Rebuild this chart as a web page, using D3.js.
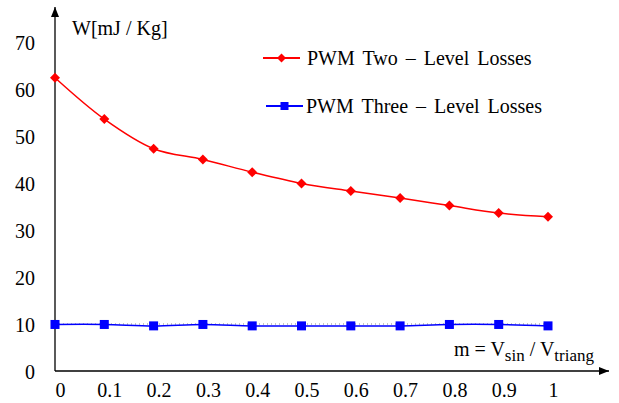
<!DOCTYPE html>
<html>
<head>
<meta charset="utf-8">
<script src="https://cdn.jsdelivr.net/npm/d3@7"></script>
<style>
  body { margin: 0; background: #fff; }
</style>
</head>
<body>
<div id="chart"></div>
<script>
const width = 619;
const height = 403;
const FONT = "'Liberation Serif', 'Times New Roman', Times, 'DejaVu Serif', serif";

// data
const mValues = [0, 0.1, 0.2, 0.3, 0.4, 0.5, 0.6, 0.7, 0.8, 0.9, 1];
const twoLevel = [62.4, 53.6, 47.3, 45.0, 42.3, 39.9, 38.3, 36.8, 35.2, 33.6, 32.8];
const threeLevel = [9.9, 9.9, 9.6, 9.9, 9.6, 9.6, 9.6, 9.6, 9.9, 9.9, 9.6];
const xTicks = [0, 0.1, 0.2, 0.3, 0.4, 0.5, 0.6, 0.7, 0.8, 0.9, 1];
const yTicks = [0, 10, 20, 30, 40, 50, 60, 70];
const seriesNames = ["PWM Two \u2013 Level Losses", "PWM Three \u2013 Level Losses"];

const svg = d3.select("#chart")
    .append("svg")
    .attr("width", width)
    .attr("height", height)
    .style("font-family", FONT);

const x = d3.scaleLinear().domain([0, 1]).range([55, 548]);
const y = d3.scaleLinear().domain([0, 70]).range([371, 42]);

// arrow heads
const defs = svg.append("defs");
defs.append("marker")
    .attr("id", "arrow")
    .attr("viewBox", "0 0 10 10")
    .attr("refX", 10).attr("refY", 5)
    .attr("markerWidth", 10).attr("markerHeight", 10)
    .attr("markerUnits", "userSpaceOnUse")
    .attr("orient", "auto")
    .append("path")
    .attr("d", "M0,1 L10,5 L0,9 Z")
    .attr("fill", "#000");

// axis lines
svg.append("line")
    .attr("x1", x(0)).attr("y1", y(0))
    .attr("x2", 609).attr("y2", y(0))
    .attr("stroke", "#000").attr("stroke-width", 1.3)
    .attr("marker-end", "url(#arrow)");

svg.append("line")
    .attr("x1", x(0)).attr("y1", y(0))
    .attr("x2", x(0)).attr("y2", 7)
    .attr("stroke", "#000").attr("stroke-width", 1.3)
    .attr("marker-end", "url(#arrow)");

// tick labels
const yAxis = svg.append("g")
    .attr("transform", `translate(${x(0)},0)`)
    .call(d3.axisLeft(y).tickValues(yTicks).tickSize(0).tickPadding(20).tickFormat(d3.format("d")));
yAxis.attr("font-family", null).attr("font-size", null);
yAxis.select(".domain").remove();
yAxis.selectAll("text")
    .style("font-family", FONT)
    .style("font-size", "20px")
    .attr("fill", "#000")
    .attr("dy", "0.35em");

const xAxis = svg.append("g")
    .attr("transform", `translate(0,${y(0)})`)
    .call(d3.axisBottom(x).tickValues(xTicks).tickSize(0).tickPadding(12).tickFormat(d => d === 0 || d === 1 ? d3.format("d")(d) : d3.format(".1f")(d)));
xAxis.attr("font-family", null).attr("font-size", null);
xAxis.select(".domain").remove();
xAxis.selectAll("text")
    .style("font-family", FONT)
    .style("font-size", "20px")
    .attr("fill", "#000")
    .attr("dx", 5);

// dotted reference line at 10
svg.append("line")
    .attr("x1", x(0)).attr("x2", x(1))
    .attr("y1", y(10)).attr("y2", y(10))
    .attr("stroke", "#888")
    .attr("stroke-width", 1)
    .attr("stroke-dasharray", "1,3");

// lines
const line = d3.line()
    .x((d, i) => x(mValues[i]))
    .y(d => y(d))
    .curve(d3.curveCatmullRom.alpha(0.5));

svg.append("path")
    .datum(twoLevel)
    .attr("d", line)
    .attr("fill", "none")
    .attr("stroke", "#ff0000")
    .attr("stroke-width", 1.5);

svg.append("path")
    .datum(threeLevel)
    .attr("d", line)
    .attr("fill", "none")
    .attr("stroke", "#0000ff")
    .attr("stroke-width", 1.5);

// markers
svg.selectAll(".red-pt")
    .data(twoLevel)
    .enter()
    .append("path")
    .attr("d", d3.symbol().type(d3.symbolSquare).size(50))
    .attr("transform", (d, i) => `translate(${x(mValues[i])},${y(d)}) rotate(45)`)
    .attr("fill", "#ff0000");

svg.selectAll(".blue-pt")
    .data(threeLevel)
    .enter()
    .append("rect")
    .attr("x", (d, i) => x(mValues[i]) - 4.5)
    .attr("y", d => y(d) - 4.5)
    .attr("width", 9)
    .attr("height", 9)
    .attr("fill", "#0000ff");

// legend
const legend = [
    { name: seriesNames[0], color: "#ff0000", shape: "diamond", x1: 263, x2: 300, y: 58, tx: 307 },
    { name: seriesNames[1], color: "#0000ff", shape: "square", x1: 266, x2: 303, y: 106, tx: 306 }
];

legend.forEach(l => {
    svg.append("line")
        .attr("x1", l.x1).attr("x2", l.x2)
        .attr("y1", l.y).attr("y2", l.y)
        .attr("stroke", l.color)
        .attr("stroke-width", 2);
    const cx = (l.x1 + l.x2) / 2;
    if (l.shape === "diamond") {
        svg.append("path")
            .attr("d", d3.symbol().type(d3.symbolSquare).size(40))
            .attr("transform", `translate(${cx},${l.y}) rotate(45)`)
            .attr("fill", l.color);
    } else {
        svg.append("rect")
            .attr("x", cx - 4).attr("y", l.y - 4)
            .attr("width", 8).attr("height", 8)
            .attr("fill", l.color);
    }
    svg.append("text")
        .attr("x", l.tx)
        .attr("y", l.y)
        .attr("dy", "0.35em")
        .style("font-family", FONT)
        .style("font-size", "20px")
        .style("word-spacing", "3px")
        .text(l.name);
});

// axis titles
svg.append("text")
    .attr("x", 72)
    .attr("y", 35)
    .style("font-family", FONT)
    .style("font-size", "20px")
    .text("W[mJ / Kg]");

const xt = svg.append("text")
    .attr("x", 594)
    .attr("y", 356)
    .attr("text-anchor", "end")
    .style("font-family", FONT)
    .style("font-size", "20px");
xt.append("tspan").text("m = V");
xt.append("tspan").text("sin").attr("dy", 5).style("font-size", "17px");
xt.append("tspan").text(" / V").attr("dy", -5);
xt.append("tspan").text("triang").attr("dy", 5).style("font-size", "17px");
</script>
</body>
</html>
